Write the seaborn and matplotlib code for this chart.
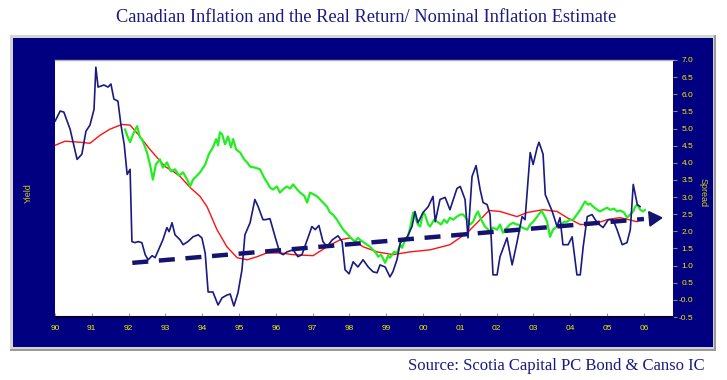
import matplotlib
matplotlib.use("Agg")
import matplotlib.pyplot as plt
from matplotlib.patches import Rectangle
import seaborn as sns
import pandas as pd

# ---------------- data ----------------
blue_years = [1990.00, 1990.14, 1990.24, 1990.41, 1990.60, 1990.73, 1990.84, 1990.95, 1991.06, 1991.11,
              1991.17, 1991.33, 1991.44, 1991.52, 1991.60, 1991.71, 1991.79, 1991.88, 1991.96, 1992.04,
              1992.09, 1992.17, 1992.26, 1992.36, 1992.45, 1992.53, 1992.64, 1992.72, 1992.85, 1992.93,
              1993.04, 1993.10, 1993.18, 1993.26, 1993.40, 1993.48, 1993.61, 1993.75, 1993.89, 1993.99,
              1994.08, 1994.16, 1994.29, 1994.43, 1994.54, 1994.67, 1994.76, 1994.86, 1994.97, 1995.08,
              1995.16, 1995.30, 1995.43, 1995.52, 1995.65, 1995.71, 1995.84, 1995.98, 1996.11, 1996.20,
              1996.30, 1996.47, 1996.60, 1996.71, 1996.85, 1996.98, 1997.07, 1997.17, 1997.28, 1997.39,
              1997.53, 1997.69, 1997.80, 1997.88, 1997.99, 1998.10, 1998.23, 1998.37, 1998.51, 1998.64,
              1998.75, 1998.83, 1998.97, 1999.10, 1999.18, 1999.29, 1999.38, 1999.57, 1999.70, 1999.78,
              1999.86, 2000.00, 2000.14, 2000.27, 2000.33, 2000.46, 2000.60, 2000.73, 2000.92, 2001.01,
              2001.14, 2001.22, 2001.33, 2001.44, 2001.55, 2001.63, 2001.74, 2001.82, 2001.90, 2002.01,
              2002.09, 2002.28, 2002.42, 2002.55, 2002.69, 2002.77, 2002.91, 2002.99, 2003.10, 2003.15,
              2003.26, 2003.32, 2003.51, 2003.64, 2003.72, 2003.80, 2003.94, 2004.05, 2004.18, 2004.27,
              2004.35, 2004.46, 2004.59, 2004.73, 2004.89, 2005.03, 2005.16, 2005.27, 2005.41, 2005.54,
              2005.63, 2005.71, 2005.82, 2005.90]
blue_values = [5.21, 5.51, 5.48, 4.98, 4.10, 4.25, 4.92, 5.10, 5.56, 6.79,
               6.21, 6.27, 6.21, 6.30, 5.86, 5.80, 5.12, 4.54, 3.66, 3.81,
               1.70, 1.67, 1.70, 1.67, 1.32, 1.17, 1.29, 1.23, 1.55, 1.75,
               2.11, 1.99, 2.25, 1.90, 1.75, 1.61, 1.70, 1.84, 1.90, 1.81,
               1.37, 0.23, 0.23, -0.15, 0.06, 0.14, 0.17, -0.18, 0.20, 0.88,
               1.90, 2.25, 2.93, 2.72, 2.34, 2.34, 2.37, 1.84, 1.37, 1.32,
               1.40, 1.46, 1.26, 1.32, 1.75, 2.14, 2.05, 2.17, 1.70, 1.55,
               1.75, 1.87, 1.70, 0.88, 0.76, 1.11, 0.96, 1.17, 0.96, 0.82,
               0.79, 1.02, 0.96, 0.67, 0.82, 1.17, 1.67, 1.84, 2.14, 2.58,
               2.25, 2.55, 2.72, 3.02, 2.28, 2.93, 2.99, 2.63, 3.25, 3.31,
               2.93, 1.81, 3.60, 3.92, 3.22, 2.84, 2.78, 2.49, 0.73, 0.73,
               1.26, 1.81, 1.02, 1.67, 2.43, 2.34, 4.30, 3.95, 4.45, 4.60,
               4.25, 3.07, 2.58, 2.14, 2.40, 1.61, 1.61, 1.84, 0.73, 0.73,
               1.55, 2.43, 2.49, 2.25, 2.11, 2.34, 2.34, 2.05, 1.61, 1.67,
               2.05, 3.37, 2.78, 2.72]

red_years = [1990.00, 1990.27, 1990.68, 1990.95, 1991.22, 1991.49, 1991.82, 1992.04, 1992.26, 1992.58,
             1992.99, 1993.21, 1993.40, 1993.67, 1993.94, 1994.13, 1994.40, 1994.67, 1994.95, 1995.22,
             1995.49, 1995.76, 1996.11, 1996.47, 1997.01, 1997.39, 1997.74, 1998.02, 1998.37, 1998.75,
             1999.18, 1999.65, 2000.19, 2000.73, 2001.20, 2001.55, 2001.79, 2002.09, 2002.55, 2002.83,
             2003.26, 2003.64, 2003.91, 2004.27, 2004.62, 2005.00, 2005.35, 2005.82]
red_values = [4.51, 4.63, 4.60, 4.57, 4.80, 4.98, 5.12, 5.10, 4.83, 4.39,
              3.89, 3.75, 3.60, 3.28, 3.02, 2.72, 2.05, 1.55, 1.23, 1.17,
              1.26, 1.37, 1.37, 1.32, 1.29, 1.55, 1.75, 1.81, 1.55, 1.40,
              1.32, 1.40, 1.46, 1.61, 1.96, 2.34, 2.61, 2.58, 2.43, 2.55,
              2.63, 2.58, 2.40, 2.20, 2.20, 2.34, 2.40, 2.28]

green_years = [1991.90, 1991.98, 1992.04, 1992.12, 1992.23, 1992.31, 1992.36, 1992.45, 1992.50, 1992.58,
               1992.66, 1992.74, 1992.85, 1992.93, 1993.04, 1993.15, 1993.26, 1993.37, 1993.48, 1993.59,
               1993.67, 1993.75, 1993.86, 1993.94, 1994.08, 1994.18, 1994.29, 1994.38, 1994.43, 1994.48,
               1994.54, 1994.62, 1994.70, 1994.78, 1994.84, 1994.92, 1995.03, 1995.14, 1995.22, 1995.30,
               1995.43, 1995.57, 1995.68, 1995.76, 1995.84, 1995.92, 1996.03, 1996.11, 1996.22, 1996.30,
               1996.39, 1996.47, 1996.58, 1996.66, 1996.77, 1996.85, 1996.93, 1997.04, 1997.12, 1997.20,
               1997.28, 1997.39, 1997.47, 1997.55, 1997.66, 1997.74, 1997.83, 1997.91, 1997.96, 1998.04,
               1998.15, 1998.23, 1998.29, 1998.40, 1998.48, 1998.56, 1998.64, 1998.72, 1998.78, 1998.86,
               1998.97, 1999.05, 1999.10, 1999.21, 1999.29, 1999.38, 1999.43, 1999.51, 1999.59, 1999.65,
               1999.73, 1999.78, 1999.86, 1999.92, 2000.00, 2000.05, 2000.14, 2000.19, 2000.30, 2000.38,
               2000.49, 2000.57, 2000.65, 2000.73, 2000.82, 2000.92, 2001.01, 2001.09, 2001.20, 2001.28,
               2001.36, 2001.44, 2001.49, 2001.58, 2001.68, 2001.77, 2001.82, 2001.90, 2002.01, 2002.09,
               2002.17, 2002.28, 2002.36, 2002.45, 2002.53, 2002.58, 2002.69, 2002.83, 2002.91, 2002.99,
               2003.10, 2003.18, 2003.23, 2003.32, 2003.37, 2003.45, 2003.53, 2003.64, 2003.75, 2003.83,
               2003.91, 2003.99, 2004.08, 2004.18, 2004.27, 2004.35, 2004.40, 2004.48, 2004.54, 2004.62,
               2004.73, 2004.81, 2004.89, 2005.00, 2005.08, 2005.19, 2005.27, 2005.35, 2005.46, 2005.54,
               2005.63, 2005.71, 2005.76, 2005.82, 2005.90, 2005.98, 2006.03]
green_values = [4.98, 4.74, 4.60, 4.83, 5.07, 4.74, 4.69, 4.45, 4.30, 3.95,
                3.51, 3.95, 4.10, 3.86, 4.01, 3.75, 3.81, 3.63, 3.72, 3.51,
                3.31, 3.51, 3.63, 3.72, 3.95, 4.25, 4.45, 4.69, 4.51, 4.89,
                4.83, 4.54, 4.77, 4.45, 4.69, 4.39, 4.30, 4.10, 4.01, 3.89,
                3.86, 3.81, 3.57, 3.43, 3.28, 3.22, 3.31, 3.13, 3.25, 3.31,
                3.25, 3.37, 3.22, 3.13, 3.04, 2.84, 3.13, 3.07, 3.02, 2.93,
                2.84, 2.72, 2.55, 2.49, 2.34, 2.20, 2.05, 1.96, 1.90, 1.81,
                1.70, 1.81, 1.75, 1.67, 1.61, 1.55, 1.46, 1.37, 1.26, 1.32,
                1.08, 1.29, 1.23, 1.40, 1.37, 1.61, 1.52, 1.75, 1.84, 2.11,
                2.55, 2.43, 2.20, 2.14, 2.55, 2.49, 2.20, 2.14, 2.34, 2.28,
                2.20, 2.34, 2.25, 2.40, 2.34, 2.43, 2.49, 2.49, 2.34, 2.20,
                2.28, 2.49, 2.58, 2.34, 2.14, 2.05, 1.99, 2.11, 2.05, 2.20,
                1.96, 2.11, 2.20, 2.25, 2.20, 2.20, 2.11, 2.05, 2.20, 2.28,
                2.43, 2.55, 2.58, 2.40, 2.28, 1.84, 2.05, 2.14, 2.20, 2.28,
                2.28, 2.34, 2.34, 2.49, 2.63, 2.78, 2.87, 2.78, 2.81, 2.72,
                2.63, 2.58, 2.63, 2.69, 2.63, 2.66, 2.58, 2.61, 2.55, 2.40,
                2.49, 2.58, 2.72, 2.78, 2.63, 2.58, 2.63]

trend_years = [1992.1, 2006.0]
trend_values = [1.08, 2.36]
arrow_year = [2006.25]
arrow_value = [2.38]

year_ticks = list(range(1990, 2007))
year_labels = ["90", "91", "92", "93", "94", "95", "96", "97", "98", "99",
               "00", "01", "02", "03", "04", "05", "06"]
spread_ticks = [-0.5, 0.0, 0.5, 1.0, 1.5, 2.0, 2.5, 3.0, 3.5, 4.0, 4.5, 5.0, 5.5, 6.0, 6.5, 7.0]
spread_labels = ["-0.5", "-0.0", "0.5", "1.0", "1.5", "2.0", "2.5", "3.0", "3.5", "4.0",
                 "4.5", "5.0", "5.5", "6.0", "6.5", "7.0"]

blue_df = pd.DataFrame({"year": blue_years, "value": blue_values})
red_df = pd.DataFrame({"year": red_years, "value": red_values})
green_df = pd.DataFrame({"year": green_years, "value": green_values})
trend_df = pd.DataFrame({"year": trend_years, "value": trend_values})

# ---------------- figure ----------------
sns.set_style("white")
W, H = 727, 380
fig = plt.figure(figsize=(W / 100, H / 100), dpi=100)
fig.patch.set_facecolor("white")

# navy panel with grey bevel
fig.add_artist(Rectangle((10 / W, 1 - 351 / H), 706 / W, 316 / H, transform=fig.transFigure,
                         facecolor="#9a9a9a", edgecolor="none", zorder=0))
fig.add_artist(Rectangle((10 / W, 1 - 349 / H), 704 / W, 314 / H, transform=fig.transFigure,
                         facecolor="#d4d4d4", edgecolor="none", zorder=0))
fig.add_artist(Rectangle((13 / W, 1 - 347 / H), 700 / W, 309 / H, transform=fig.transFigure,
                         facecolor="#000080", edgecolor="none", zorder=0))

ax = fig.add_axes([55 / W, 1 - 317 / H, 618 / W, 257 / H])
ax.set_facecolor("white")
ax.set_zorder(2)

sns.lineplot(data=red_df, x="year", y="value", ax=ax, color="#ff1010", linewidth=1.0,
             estimator=None, sort=False)
sns.lineplot(data=green_df, x="year", y="value", ax=ax, color="#22ee22", linewidth=1.6,
             estimator=None, sort=False)
sns.lineplot(data=blue_df, x="year", y="value", ax=ax, color="#1a1a80", linewidth=1.2,
             estimator=None, sort=False)
line_ax = sns.lineplot(data=trend_df, x="year", y="value", ax=ax, color="#141470", linewidth=3.2,
                       estimator=None, sort=False)
line_ax.lines[-1].set_dashes([3.6, 2.4])
line_ax.lines[-1].set_dash_capstyle("butt")
ax.plot(arrow_year, arrow_value, marker=(3, 0, -85), markersize=12, color="#141470",
        linestyle="none")

ax.set_xlim(1990, 2006.79)
ax.set_ylim(-0.5, 7.0)
ax.set_xticks(year_ticks)
ax.set_xticklabels(year_labels)
ax.yaxis.tick_right()
ax.set_yticks(spread_ticks)
ax.set_yticklabels(spread_labels)
for t in ax.get_yticklabels():
    t.set_horizontalalignment("right")
ax.tick_params(axis="y", which="both", direction="out", length=3, width=0.8, color="#888888",
               labelcolor="#f0f000", labelsize=6, pad=11.5, right=True, left=False)
ax.tick_params(axis="x", which="both", direction="in", length=3, width=0.8, color="#999999",
               labelcolor="#f0f000", labelsize=6, pad=6, bottom=True)
for t in ax.get_xticklabels() + ax.get_yticklabels():
    t.set_fontfamily("Liberation Sans")

ax.set_xlabel("")
ax.set_ylabel("")
for s in ["left", "right"]:
    ax.spines[s].set_visible(False)
ax.spines["top"].set_color("#b0b0b0")
ax.spines["top"].set_linewidth(1.0)
ax.spines["bottom"].set_color("#000033")
ax.spines["bottom"].set_linewidth(1.5)

fig.text(703 / W, 1 - 193 / H, "Spread", rotation=270, color="#d0d020", fontsize=6.5,
         ha="center", va="center", family="Liberation Sans")
fig.text(28 / W, 1 - 193 / H, "Yield", rotation=90, color="#d0d020", fontsize=6.5,
         ha="center", va="center", family="Liberation Sans")

fig.text(366 / W, 1 - 17 / H, "Canadian Inflation and the Real Return/ Nominal Inflation Estimate",
         color="#1a1a80", fontsize=13.2, ha="center", va="center", family="Liberation Serif")
fig.text(705 / W, 1 - 366 / H, "Source: Scotia Capital PC Bond & Canso IC",
         color="#1a1a80", fontsize=12, ha="right", va="center", family="Liberation Serif")

fig.savefig("out.png", dpi=100, facecolor="white")
